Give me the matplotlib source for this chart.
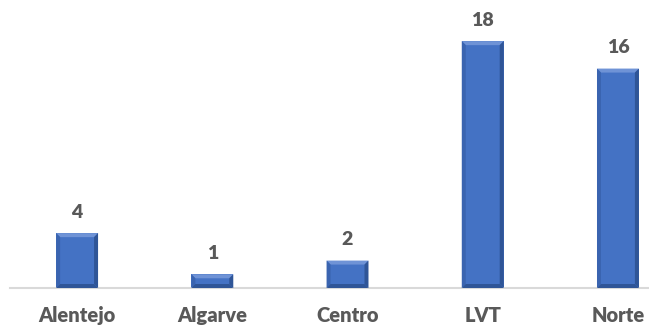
import matplotlib.pyplot as plt
from matplotlib.patches import Polygon

regions = ['Alentejo', 'Algarve', 'Centro', 'LVT', 'Norte']
counts = [4, 1, 2, 18, 16]

face = '#4472C4'
light = '#6F93D6'
dark = '#2F5597'
mid = '#3A64B0'
text_color = '#595959'

fig = plt.figure(figsize=(6.49, 3.25), dpi=100)
ax = fig.add_axes([9.5 / 649, 37 / 325, 1 - 9.5 / 649, 288 / 325])

x = range(len(regions))
width = 0.31
bars = ax.bar(x, counts, width=width, color=face, zorder=2)

ax.set_xlim(-0.5, 4.5 - 36.5 / 135)
ax.set_ylim(0, 21)

# bevel effect on each bar
fig.canvas.draw()
px_x = (ax.get_xlim()[1] - ax.get_xlim()[0]) / (ax.bbox.width)
px_y = (ax.get_ylim()[1] - ax.get_ylim()[0]) / (ax.bbox.height)
b = 4
for rect in bars:
    x0, y0 = rect.get_x(), rect.get_y()
    x1, y1 = x0 + rect.get_width(), y0 + rect.get_height()
    dx, dy = b * px_x, b * px_y
    dy = min(dy, rect.get_height() / 2)
    top = Polygon([(x0, y1), (x1, y1), (x1 - dx, y1 - dy), (x0 + dx, y1 - dy)], color=light, lw=0, zorder=3)
    left = Polygon([(x0, y0), (x0, y1), (x0 + dx, y1 - dy), (x0 + dx, y0 + dy)], color=mid, lw=0, zorder=3)
    right = Polygon([(x1, y0), (x1, y1), (x1 - dx, y1 - dy), (x1 - dx, y0 + dy)], color=dark, lw=0, zorder=3)
    bottom = Polygon([(x0, y0), (x1, y0), (x1 - dx, y0 + dy), (x0 + dx, y0 + dy)], color=dark, lw=0, zorder=3)
    for p in (top, left, right, bottom):
        ax.add_patch(p)

for xi, v in zip(x, counts):
    ax.annotate(str(v), (xi, v), xytext=(0, 9), textcoords='offset points',
                ha='center', va='bottom', fontsize=14, fontweight='heavy',
                color=text_color, family='Lato')

for s in ['top', 'right', 'left']:
    ax.spines[s].set_visible(False)
ax.spines['bottom'].set_color('#D9D9D9')
ax.spines['bottom'].set_linewidth(1.5)
ax.set_yticks([])
ax.set_xticks(list(x))
ax.set_xticklabels(regions, fontsize=14.5, fontweight='heavy', color=text_color, family='Lato')
ax.tick_params(axis='x', length=0, pad=13)

fig.savefig('out.png', dpi=100)
